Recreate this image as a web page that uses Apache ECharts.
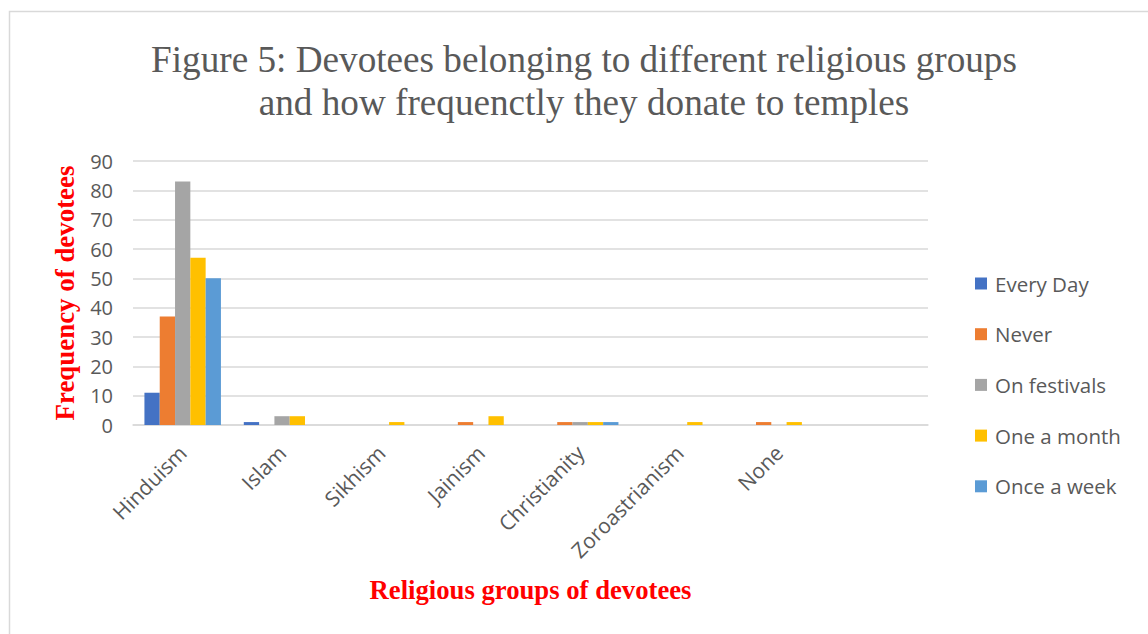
<!DOCTYPE html>
<html>
<head>
<meta charset="utf-8">
<title>Devotees by religious group and donation frequency</title>
<script src="https://cdn.jsdelivr.net/npm/echarts@6/dist/echarts.min.js"></script>
<style>
  html, body { margin: 0; padding: 0; background: #ffffff; }
  #chart { width: 1148px; height: 634px; }
</style>
</head>
<body>
<div id="chart"></div>
<script>
// Religious groups (the last slot is left empty on the axis)
const categories = ['Hinduism', 'Islam', 'Sikhism', 'Jainism', 'Christianity', 'Zoroastrianism', 'None', ''];

// Number of devotees per donation frequency
const everyDay    = [11, 1, 0, 0, 0, 0, 0, null];
const never       = [37, 0, 0, 1, 1, 0, 1, null];
const onFestivals = [83, 3, 0, 0, 1, 0, 0, null];
const oneAMonth   = [57, 3, 1, 3, 1, 1, 1, null];
const onceAWeek   = [50, 0, 0, 0, 1, 0, 0, null];

const seriesNames = ['Every Day', 'Never', 'On festivals', 'One a month', 'Once a week'];
const seriesData = [everyDay, never, onFestivals, oneAMonth, onceAWeek];
const seriesColors = ['#4472C4', '#ED7D31', '#A5A5A5', '#FFC000', '#5B9BD5'];

const titleLines = [
  'Figure 5: Devotees belonging to different religious groups',
  'and how frequenctly they donate to temples'
];

const sans = '"Open Sans", "Liberation Sans", sans-serif';
const serif = '"Liberation Serif", "DejaVu Serif", serif';
const textGray = '#595959';
const gridGray = '#d9d9d9';

const chart = echarts.init(document.getElementById('chart'), null, { renderer: 'svg' });

chart.setOption({
  backgroundColor: '#ffffff',
  animation: false,
  graphic: [
    {
      type: 'rect',
      silent: true,
      shape: { x: 9.5, y: 11.5, width: 1200, height: 700 },
      style: { fill: 'none', stroke: gridGray, lineWidth: 1.5 }
    },
    {
      type: 'text',
      x: 584,
      y: 38,
      style: {
        text: titleLines.join('\n'),
        font: '37.2px ' + serif,
        fill: textGray,
        align: 'center',
        verticalAlign: 'top',
        lineHeight: 43
      }
    }
  ],
  grid: { left: 133, right: 220, top: 161, bottom: 209, containLabel: false },
  legend: {
    orient: 'vertical',
    left: 975,
    top: 273,
    padding: 0,
    itemWidth: 12,
    itemHeight: 12,
    itemGap: 29.7,
    icon: 'rect',
    textStyle: { fontFamily: sans, fontSize: 20.5, color: textGray, lineHeight: 20, padding: [0, 0, 0, 3] },
    data: seriesNames
  },
  xAxis: {
    type: 'category',
    data: categories,
    name: 'Religious groups of devotees',
    nameLocation: 'middle',
    nameGap: 151,
    nameTextStyle: { fontFamily: serif, fontWeight: 'bold', fontSize: 26.7, color: '#ff0000' },
    axisLine: { lineStyle: { color: gridGray, width: 1.5 } },
    axisTick: { show: false },
    axisLabel: {
      interval: 0,
      rotate: 45,
      margin: 24,
      fontFamily: sans,
      fontSize: 21,
      color: textGray
    }
  },
  yAxis: {
    type: 'value',
    min: 0,
    max: 90,
    interval: 10,
    name: 'Frequency of devotees',
    nameLocation: 'middle',
    nameRotate: 90,
    nameGap: 55,
    nameTextStyle: { fontFamily: serif, fontWeight: 'bold', fontSize: 26.9, color: '#ff0000' },
    axisLine: { show: false },
    axisTick: { show: false },
    axisLabel: { margin: 20, fontFamily: sans, fontSize: 20, color: textGray },
    splitLine: { lineStyle: { color: gridGray, width: 1.5 } }
  },
  series: seriesNames.map((name, i) => ({
    name,
    type: 'bar',
    data: seriesData[i],
    barGap: '0%',
    barCategoryGap: '23%',
    itemStyle: { color: seriesColors[i] }
  }))
});
</script>
</body>
</html>
